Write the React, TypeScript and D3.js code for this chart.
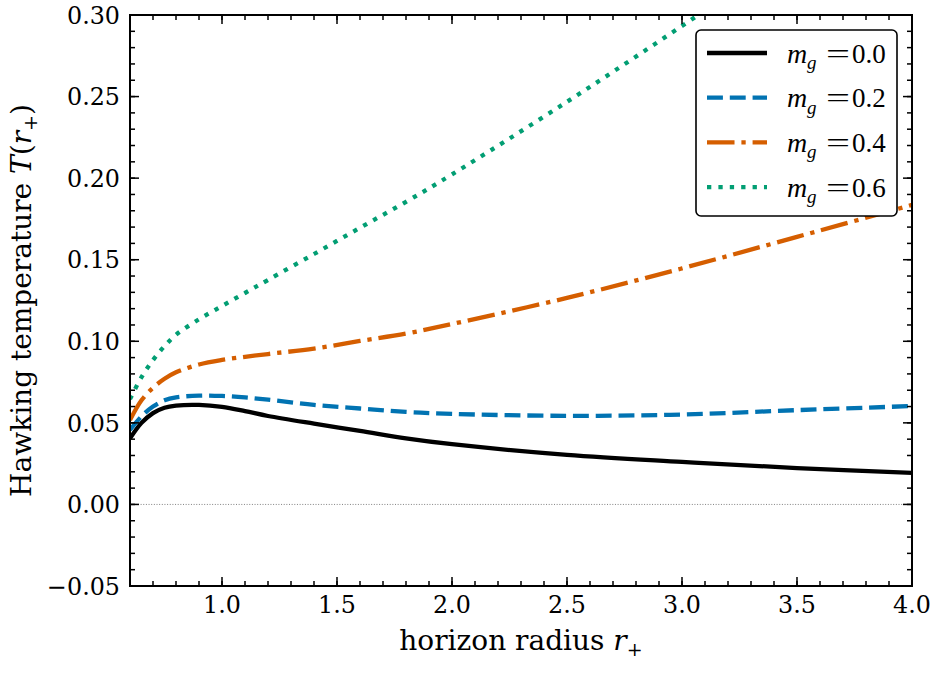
import * as d3 from "d3";

// horizon radius samples shared by every curve
const radius = [0.6, 0.65, 0.7, 0.75, 0.8, 0.9, 1.0, 1.1, 1.2, 1.4, 1.6, 1.8, 2.0, 2.5, 3.0, 3.5, 4.0];

// Hawking temperature for each graviton mass
const tempM00 = [0.0405, 0.0500, 0.0560, 0.0593, 0.0606, 0.0610, 0.0598, 0.0572, 0.0542, 0.0495, 0.0451, 0.0405, 0.0369, 0.0304, 0.0261, 0.0223, 0.0194];
const tempM02 = [0.0456, 0.0540, 0.0600, 0.0638, 0.0656, 0.0667, 0.0665, 0.0656, 0.0642, 0.0610, 0.0588, 0.0567, 0.0555, 0.0543, 0.0551, 0.0578, 0.0603];
const tempM04 = [0.0517, 0.0638, 0.0715, 0.0770, 0.0810, 0.0858, 0.0886, 0.0905, 0.0922, 0.0955, 0.1002, 0.1047, 0.1106, 0.1266, 0.1447, 0.1640, 0.1836];
const tempM06 = [0.0646, 0.0780, 0.0885, 0.0970, 0.1040, 0.1135, 0.1216, 0.1296, 0.1376, 0.1535, 0.1696, 0.1855, 0.2023, 0.2468, 0.2933, 0.3410, 0.3900];

const massLabels = ["0.0", "0.2", "0.4", "0.6"];

const xTicks = [1.0, 1.5, 2.0, 2.5, 3.0, 3.5, 4.0];
const yTicks = [-0.05, 0.0, 0.05, 0.1, 0.15, 0.2, 0.25, 0.3];

const WIDTH = 936;
const HEIGHT = 692;
const MARGIN = { top: 15, right: 24, bottom: 106, left: 130 };

const LW = 4.3;
const styles = [
  { color: "#000000", dash: "none" },
  { color: "#0173B2", dash: `${3.7 * LW} ${1.6 * LW}` },
  { color: "#D55E00", dash: `${6.4 * LW} ${1.6 * LW} ${1 * LW} ${1.6 * LW}` },
  { color: "#029E73", dash: `${1 * LW} ${1.65 * LW}` },
];

const TICK_FONT = "'DejaVu Serif', serif";
const MATH_FONT = "'Liberation Serif', 'Times New Roman', serif";

function TemperaturePlot() {
  const x0 = MARGIN.left;
  const x1 = WIDTH - MARGIN.right;
  const y0 = MARGIN.top;
  const y1 = HEIGHT - MARGIN.bottom;

  const xScale = d3.scaleLinear().domain([0.6, 4.0]).range([x0, x1]);
  const yScale = d3.scaleLinear().domain([-0.05, 0.3]).range([y1, y0]);

  const series = [tempM00, tempM02, tempM04, tempM06];
  const line = d3
    .line<number>()
    .x((_, i) => xScale(radius[i]))
    .y((d) => yScale(d))
    .curve(d3.curveCatmullRom.alpha(0.5));

  const xMinor = d3.range(6, 41).map((v) => v / 10);
  const yMinor = d3.range(-5, 31).map((v) => v / 100);

  const major = 9;
  const minor = 5;

  // legend box
  const lg = { x: 696, y: 30, w: 201, h: 186 };
  const rowY = (i: number) => lg.y + 23 + i * 44.7;

  return (
    <svg
      width={WIDTH}
      height={HEIGHT}
      style={{ position: "absolute", left: 0, top: 0, background: "#fff" }}
    >
      <defs>
        <clipPath id="plot-area">
          <rect x={x0} y={y0} width={x1 - x0} height={y1 - y0} />
        </clipPath>
      </defs>

      {/* zero reference line */}
      <line
        x1={x0}
        x2={x1}
        y1={yScale(0)}
        y2={yScale(0)}
        stroke="#808080"
        strokeWidth={1}
        strokeDasharray="1 1.65"
      />

      <g clipPath="url(#plot-area)">
        {series.map((s, i) => (
          <path
            key={i}
            d={line(s) ?? ""}
            fill="none"
            stroke={styles[i].color}
            strokeWidth={LW}
            strokeDasharray={styles[i].dash}
            strokeLinecap="butt"
          />
        ))}
      </g>

      {/* inward ticks on all four sides */}
      <g stroke="#000" strokeWidth={1.5}>
        {xMinor.map((v) => (
          <g key={"xm" + v}>
            <line x1={xScale(v)} x2={xScale(v)} y1={y1} y2={y1 - minor} />
            <line x1={xScale(v)} x2={xScale(v)} y1={y0} y2={y0 + minor} />
          </g>
        ))}
        {xTicks.map((v) => (
          <g key={"xM" + v}>
            <line x1={xScale(v)} x2={xScale(v)} y1={y1} y2={y1 - major} />
            <line x1={xScale(v)} x2={xScale(v)} y1={y0} y2={y0 + major} />
          </g>
        ))}
        {yMinor.map((v) => (
          <g key={"ym" + v}>
            <line x1={x0} x2={x0 + minor} y1={yScale(v)} y2={yScale(v)} />
            <line x1={x1} x2={x1 - minor} y1={yScale(v)} y2={yScale(v)} />
          </g>
        ))}
        {yTicks.map((v) => (
          <g key={"yM" + v}>
            <line x1={x0} x2={x0 + major} y1={yScale(v)} y2={yScale(v)} />
            <line x1={x1} x2={x1 - major} y1={yScale(v)} y2={yScale(v)} />
          </g>
        ))}
      </g>

      <rect
        x={x0}
        y={y0}
        width={x1 - x0}
        height={y1 - y0}
        fill="none"
        stroke="#000"
        strokeWidth={2}
      />

      {/* tick labels */}
      <g fontFamily={TICK_FONT} fontSize={23.8} fill="#000">
        {xTicks.map((v) => (
          <text key={"xl" + v} x={xScale(v)} y={y1 + 27} textAnchor="middle">
            {v.toFixed(1)}
          </text>
        ))}
        {yTicks.map((v) => (
          <text key={"yl" + v} x={x0 - 10} y={yScale(v) + 8.7} textAnchor="end">
            {v.toFixed(2).replace("-", "\u2212")}
          </text>
        ))}
      </g>

      {/* axis titles */}
      <text
        x={(x0 + x1) / 2}
        y={650}
        textAnchor="middle"
        fontFamily={TICK_FONT}
        fontSize={28}
      >
        horizon radius <tspan fontStyle="italic">r</tspan>
        <tspan fontSize={19} dy={6}>+</tspan>
      </text>
      <text
        transform={`translate(31, ${(y0 + y1) / 2}) rotate(-90)`}
        textAnchor="middle"
        fontFamily={TICK_FONT}
        fontSize={28}
      >
        Hawking temperature <tspan fontStyle="italic">T</tspan>(
        <tspan fontStyle="italic">r</tspan>
        <tspan fontSize={19} dy={6}>+</tspan>
        <tspan dy={-6}>)</tspan>
      </text>

      {/* legend */}
      <rect
        x={lg.x}
        y={lg.y}
        width={lg.w}
        height={lg.h}
        rx={5}
        fill="#fff"
        stroke="#000"
        strokeWidth={1.6}
      />
      {massLabels.map((m, i) => {
        const cy = rowY(i);
        return (
          <g key={m}>
            <line
              x1={707}
              x2={767}
              y1={cy}
              y2={cy}
              stroke={styles[i].color}
              strokeWidth={LW}
              strokeDasharray={styles[i].dash}
            />
            <text x={787} y={cy + 9.5} fontFamily={MATH_FONT} fontSize={28} fontStyle="italic">
              m
            </text>
            <text x={807} y={cy + 16} fontFamily={MATH_FONT} fontSize={19} fontStyle="italic">
              g
            </text>
            <text
              x={826}
              y={cy + 9.5}
              fontFamily={MATH_FONT}
              fontSize={28}
              textLength={24}
              lengthAdjust="spacingAndGlyphs"
            >
              =
            </text>
            <text x={852} y={cy + 9.5} fontFamily={MATH_FONT} fontSize={27}>
              {m}
            </text>
          </g>
        );
      })}
    </svg>
  );
}

export default function App() {
  return <TemperaturePlot />;
}
